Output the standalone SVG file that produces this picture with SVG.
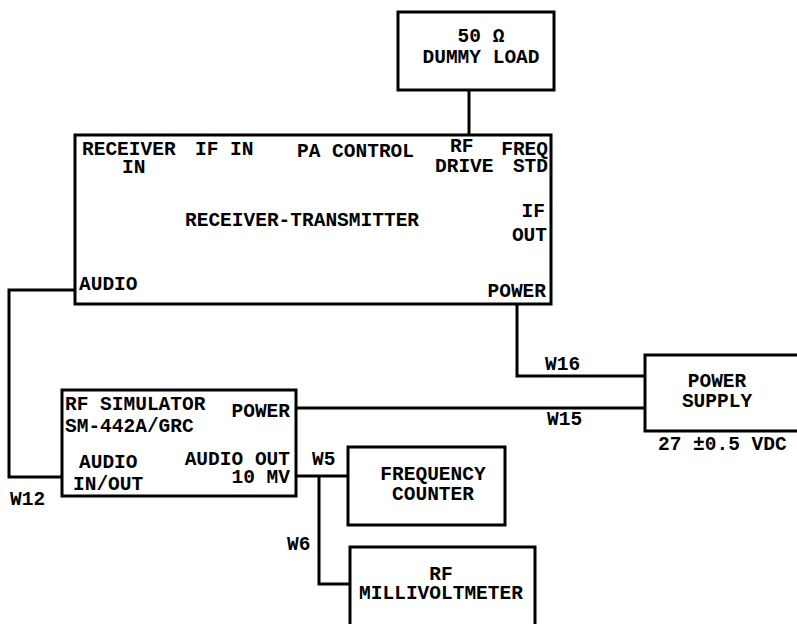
<svg xmlns="http://www.w3.org/2000/svg" width="797" height="624" viewBox="0 0 797 624">
<style>
.b{fill:#fff;stroke:#000;stroke-width:3}
.w{fill:none;stroke:#000;stroke-width:3}
text{font-family:"Liberation Mono","Courier New",monospace;font-weight:bold;font-size:19.5px;fill:#000}
.m{text-anchor:middle}
.e{text-anchor:end}
</style>
<rect width="797" height="624" fill="#fff"/>
<g id="connectors">
<polyline class="w" points="469,90 469,135"/>
<polyline class="w" points="75,290 9,290 9,477 62,477"/>
<polyline class="w" points="517,304 517,376 645,376"/>
<polyline class="w" points="296,408 645,408"/>
<polyline class="w" points="296,476 348,476"/>
<polyline class="w" points="319,476 319,584 350,584"/>
<text x="10" y="505">W12</text>
<text x="545" y="370">W16</text>
<text x="547" y="425">W15</text>
<text x="312" y="465">W5</text>
<text x="287" y="550">W6</text>
</g>
<g id="dummy-load">
<rect class="b" x="398" y="12" width="156" height="78"/>
<text class="m" x="481" y="42">50 Ω</text>
<text class="m" x="481" y="63">DUMMY LOAD</text>
</g>
<g id="receiver-transmitter">
<rect class="b" x="75" y="135" width="476" height="169"/>
<text x="82" y="155">RECEIVER</text>
<text x="122" y="173">IN</text>
<text x="195" y="155">IF IN</text>
<text x="297" y="157">PA CONTROL</text>
<text x="450" y="152">RF</text>
<text x="435" y="172">DRIVE</text>
<text class="e" x="548" y="155">FREQ</text>
<text class="e" x="548" y="172">STD</text>
<text x="185" y="226">RECEIVER-TRANSMITTER</text>
<text class="e" x="545" y="217">IF</text>
<text class="e" x="547" y="241">OUT</text>
<text x="79" y="290">AUDIO</text>
<text class="e" x="546" y="297">POWER</text>
</g>
<g id="rf-simulator">
<rect class="b" x="62" y="390" width="234" height="106"/>
<text x="65" y="410">RF SIMULATOR</text>
<text x="65" y="432">SM-442A/GRC</text>
<text class="e" x="290" y="417">POWER</text>
<text x="79" y="468">AUDIO</text>
<text x="73" y="490">IN/OUT</text>
<text class="e" x="290" y="465">AUDIO OUT</text>
<text class="e" x="290" y="483">10 MV</text>
</g>
<g id="power-supply">
<path class="w" d="M800,355 H645 V431 H800" style="fill:#fff"/>
<text class="m" x="717" y="387">POWER</text>
<text class="m" x="717" y="407">SUPPLY</text>
<text x="658" y="450">27 ±0.5 VDC</text>
</g>
<g id="frequency-counter">
<rect class="b" x="348" y="447" width="157" height="78"/>
<text class="m" x="433" y="480">FREQUENCY</text>
<text class="m" x="433" y="500">COUNTER</text>
</g>
<g id="rf-millivoltmeter">
<path class="w" d="M350,630 V547 H535 V630" style="fill:#fff"/>
<text class="m" x="441" y="580">RF</text>
<text class="m" x="441" y="599">MILLIVOLTMETER</text>
</g>
</svg>
